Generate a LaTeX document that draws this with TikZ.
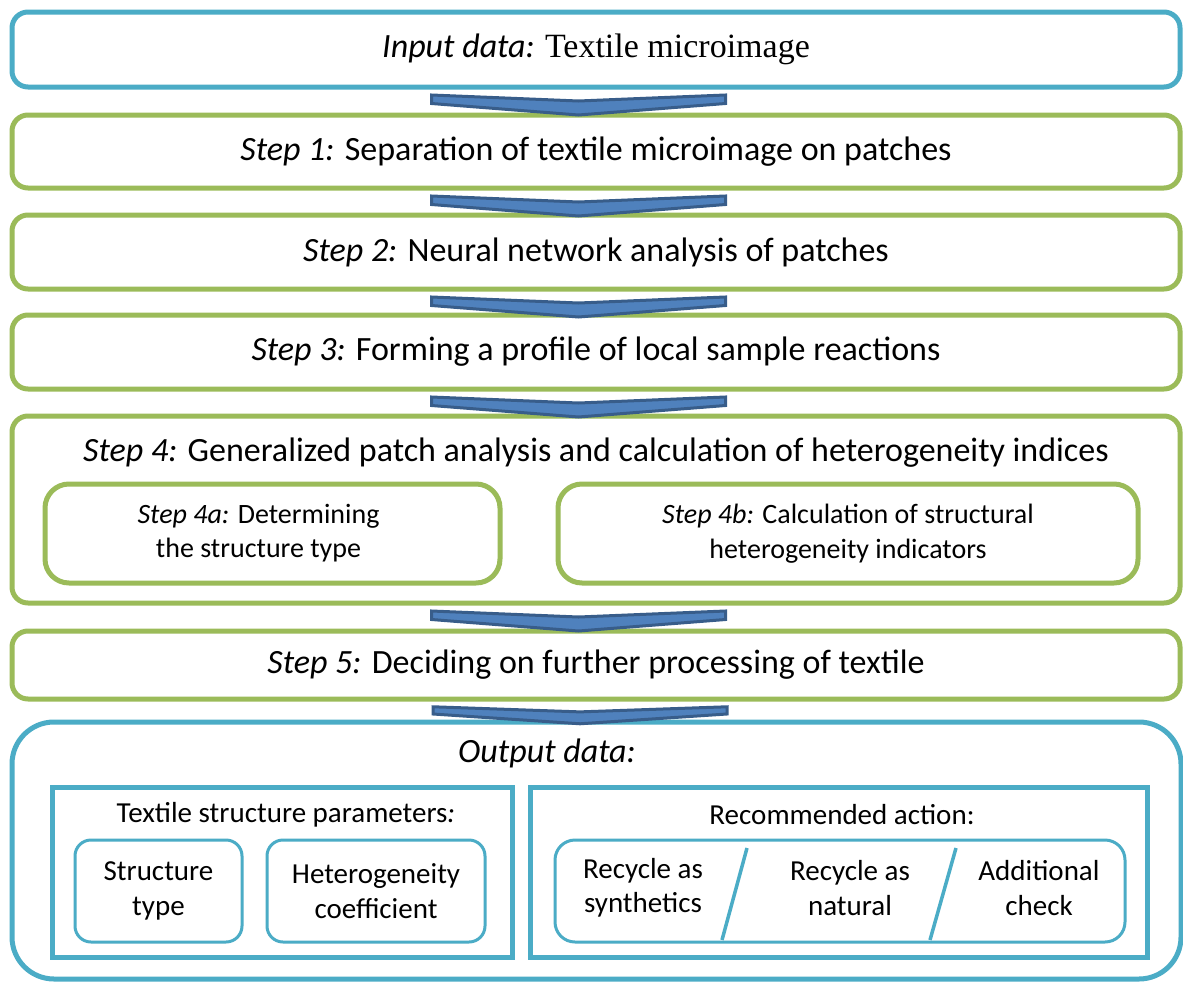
\documentclass[tikz,border=0pt]{standalone}
\usepackage{fontspec}
\setmainfont{Carlito}
\newfontfamily\timesf{Liberation Serif}
\usetikzlibrary{calc}
\newcommand\fsz[1]{\fontsize{#1}{34.5}\selectfont}
\definecolor{cblue}{HTML}{4BACC6}
\definecolor{cgreen}{HTML}{9BBB59}
\definecolor{chfill}{HTML}{4F81BD}
\definecolor{chline}{HTML}{385D8A}
\tikzset{
  mainbox/.style={draw=cblue, line width=5pt, rounded corners=16pt, fill=white, inner sep=0pt},
  stepbox/.style={draw=cgreen, line width=5pt, rounded corners=16pt, fill=white, inner sep=0pt, font=\fsz{34}},
  subbox/.style={draw=cgreen, line width=5pt, rounded corners=24pt, inner sep=0pt, align=center, font=\fsz{28}},
  outrect/.style={draw=cblue, line width=5pt, inner sep=0pt},
  smallbox/.style={draw=cblue, line width=3pt, rounded corners=16pt, inner sep=0pt, align=center, font=\fsz{29}},
  txt/.style={inner sep=0pt, align=center},
  slash/.style={draw=cblue, line width=3.5pt},
  chev/.pic={\draw[draw=chline, fill=chfill, line width=3pt, line join=miter]
     (-147,1.5) -- (0,7.5) -- (147,1.5) -- (147,10) -- (0,21.5) -- (-147,10) -- cycle;}
}
\begin{document}
\begin{tikzpicture}[x=1pt,y=-1pt]
\useasboundingbox (0,0) rectangle (1183,983);
% boxes
\node[mainbox, minimum width=1168pt, minimum height=75pt] (in) at (596,49.5)
  {\fsz{34}\textit{Input data:} {\timesf Textile microimage}};
\node[stepbox, minimum width=1168pt, minimum height=73pt] (s1) at (596,151.5)
  {\textit{Step 1:} Separation of textile microimage on patches};
\node[stepbox, minimum width=1168pt, minimum height=74pt] (s2) at (596,252)
  {\textit{Step 2:} Neural network analysis of patches};
\node[stepbox, minimum width=1168pt, minimum height=74pt] (s3) at (596,352)
  {\textit{Step 3:} Forming a profile of local sample reactions};
\node[stepbox, minimum width=1168pt, minimum height=187pt] (s4) at (596,509.5) {};
\node[txt, font=\fsz{34}] (s4t) at (596,453)
  {\textit{Step 4:} Generalized patch analysis and calculation of heterogeneity indices};
\node[subbox, minimum width=455pt, minimum height=99pt] (s4a) at (272.5,533.5)
  {\begin{tabular}{@{}c@{\hspace{28pt}}}\textit{Step 4a:} Determining\\the structure type\end{tabular}};
\node[subbox, minimum width=580pt, minimum height=99pt] (s4b) at (848,533.5)
  {\textit{Step 4b:} Calculation of structural\\heterogeneity indicators};
\node[stepbox, minimum width=1168pt, minimum height=68pt] (s5) at (596,665)
  {\textit{Step 5:} Deciding on further processing of textile};
\node[mainbox, rounded corners=42pt, minimum width=1169pt, minimum height=257pt] (out) at (596.5,850.5) {};
\node[txt, font=\fsz{34}] (outt) at (547,753) {\textit{Output data:}};
\node[outrect, minimum width=460pt, minimum height=170pt] (par) at (282,872) {};
\node[txt, font=\fsz{29}] (part) at (286,815) {Textile structure parameters\textit{:}};
\node[smallbox, minimum width=167pt, minimum height=102pt] (st) at (158.5,891) {Structure\\type};
\node[smallbox, minimum width=218pt, minimum height=102pt] (hc) at (376,891) {Heterogeneity\\coefficient};
\node[outrect, minimum width=617pt, minimum height=170pt] (rec) at (838.5,872) {};
\node[txt, font=\fsz{29}] (rect) at (842,815) {Recommended action:};
\node[smallbox, rounded corners=20pt, minimum width=570pt, minimum height=102pt] (act) at (840,891) {};
\node[txt, font=\fsz{29}] (a1) at (643,888) {Recycle as\\synthetics};
\node[txt, font=\fsz{29}] (a2) at (850,888) {Recycle as\\natural};
\node[txt, font=\fsz{29}] (a3) at (1039,888) {Additional\\check};
\draw[slash] (747,848) -- (722,940);
\draw[slash] (956,848) -- (930,940);
% chevrons
\pic at ($(in.south)+(-17.5,4)$) {chev};
\pic at ($(s1.south)+(-17.5,4)$) {chev};
\pic at ($(s2.south)+(-17.5,4)$) {chev};
\pic at ($(s3.south)+(-17.5,4)$) {chev};
\pic at ($(s4.south)+(-17.5,4)$) {chev};
\pic[yscale=0.85] at ($(s5.south)+(-16,4)$) {chev};
\end{tikzpicture}
\end{document}
